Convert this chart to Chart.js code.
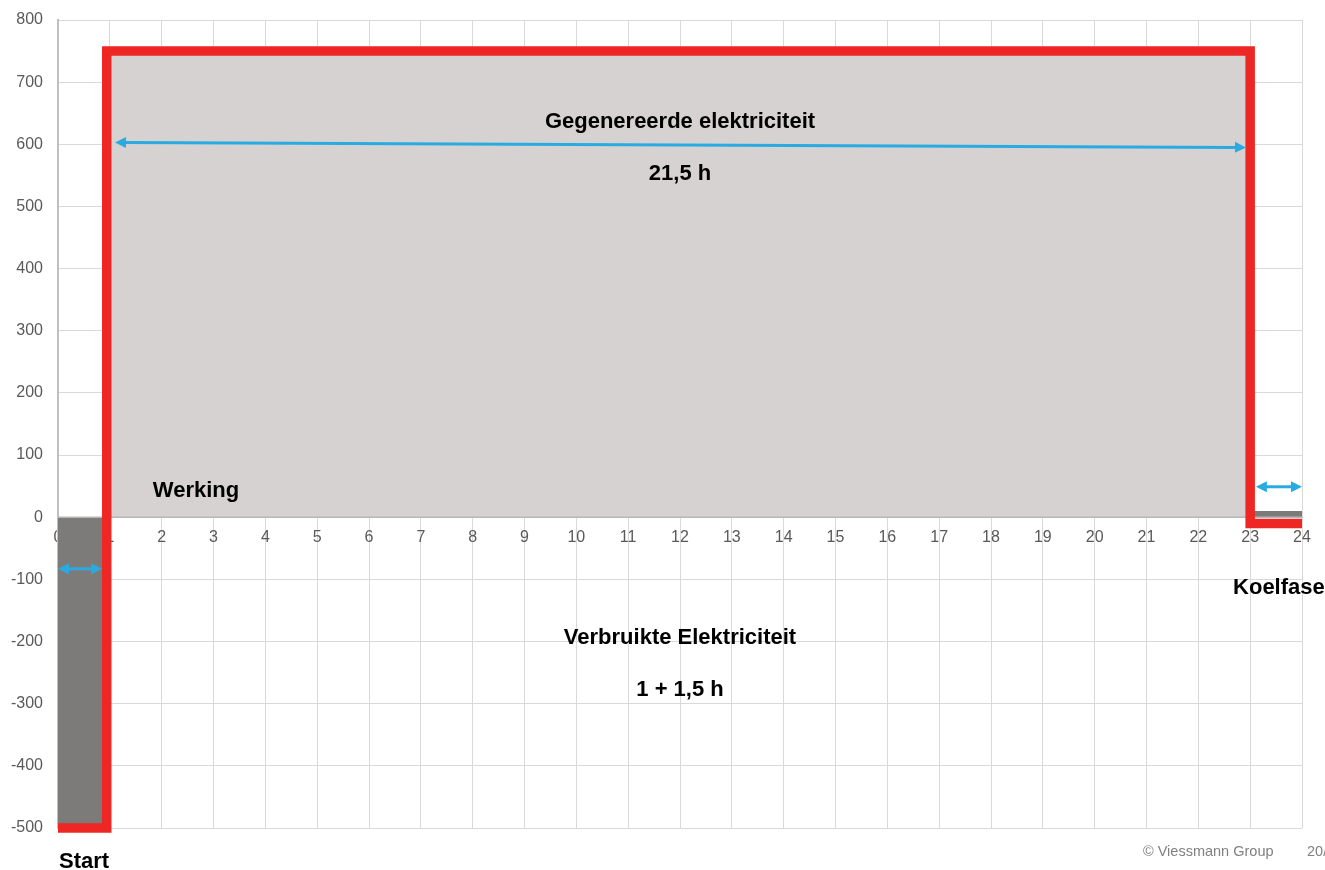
<!DOCTYPE html>
<html>
<head>
<meta charset="utf-8">
<script src="https://cdn.jsdelivr.net/npm/chart.js@4.4.1/dist/chart.umd.min.js"></script>
<style>
  html, body { margin: 0; padding: 0; background: #ffffff; }
  #wrap { width: 1325px; height: 870px; }
</style>
</head>
<body>
<div id="wrap"><canvas id="c" width="1325" height="870"></canvas></div>
<script>
// Axis ticks
const hourTicks = [0, 1, 2, 3, 4, 5, 6, 7, 8, 9, 10, 11, 12, 13, 14, 15, 16, 17, 18, 19, 20, 21, 22, 23, 24];
const powerTicks = [-500, -400, -300, -200, -100, 0, 100, 200, 300, 400, 500, 600, 700, 800];

// Net electrical power over one day (red profile)
const profileHours = [0, 0.94, 0.94, 23, 23, 24];
const profilePower = [-500, -500, 750, 750, -10, -10];

// Generated electricity block
const generatedHours = [0.94, 0.94, 23, 23];
const generatedPower = [0, 750, 750, 0];

// Consumed electricity during start
const startHours = [0, 0, 0.94, 0.94];
const startPower = [0, -500, -500, 0];

// Consumed electricity during cooling phase
const coolHours = [23, 23, 24, 24];
const coolPower = [0, 10, 10, 0];

// Zero line across the day
const zeroHours = [0, 24];
const zeroPower = [0, 0];

// Duration arrows (hour, power) pairs
const arrowStartHours = [1.1, 0, 23.11];
const arrowStartPower = [603, -83, 49];
const arrowEndHours = [22.92, 0.85, 24];
const arrowEndPower = [595, -83, 49];

// Annotation texts
const labelGenerated = 'Gegenereerde elektriciteit';
const labelGeneratedTime = '21,5 h';
const labelOperation = 'Werking';
const labelConsumed = 'Verbruikte Elektriciteit';
const labelConsumedTime = '1 + 1,5 h';
const labelStart = 'Start';
const labelCooling = 'Koelfase';
const footerText = '© Viessmann Group';
const footerDate = '20/0';

const toPoints = (xs, ys) => xs.map((x, i) => ({ x: x, y: ys[i] }));

const FONT = "'Liberation Sans', Arial, sans-serif";

const annotationPlugin = {
  id: 'annotations',
  afterDatasetsDraw(chart) {
    const ctx = chart.ctx;
    const xs = chart.scales.x;
    const ys = chart.scales.y;
    const area = chart.chartArea;

    // double-headed duration arrows
    ctx.save();
    ctx.strokeStyle = '#29abe2';
    ctx.fillStyle = '#29abe2';
    ctx.lineWidth = 3;
    for (let i = 0; i < arrowStartHours.length; i++) {
      const x1 = xs.getPixelForValue(arrowStartHours[i]);
      const y1 = ys.getPixelForValue(arrowStartPower[i]);
      const x2 = xs.getPixelForValue(arrowEndHours[i]);
      const y2 = ys.getPixelForValue(arrowEndPower[i]);
      const ang = Math.atan2(y2 - y1, x2 - x1);
      const head = 11, half = 5.5;
      const ux = Math.cos(ang), uy = Math.sin(ang);
      ctx.beginPath();
      ctx.moveTo(x1 + ux * head * 0.8, y1 + uy * head * 0.8);
      ctx.lineTo(x2 - ux * head * 0.8, y2 - uy * head * 0.8);
      ctx.stroke();
      const drawHead = (tx, ty, dx, dy) => {
        ctx.beginPath();
        ctx.moveTo(tx, ty);
        ctx.lineTo(tx - dx * head - dy * half, ty - dy * head + dx * half);
        ctx.lineTo(tx - dx * head + dy * half, ty - dy * head - dx * half);
        ctx.closePath();
        ctx.fill();
      };
      drawHead(x2, y2, ux, uy);
      drawHead(x1, y1, -ux, -uy);
    }
    ctx.restore();

    // annotation texts
    ctx.save();
    ctx.fillStyle = '#000000';
    ctx.font = 'bold 22px ' + FONT;
    ctx.textBaseline = 'alphabetic';
    ctx.textAlign = 'center';
    const cx = xs.getPixelForValue(12);
    ctx.fillText(labelGenerated, cx, ys.getPixelForValue(627));
    ctx.fillText(labelGeneratedTime, cx, ys.getPixelForValue(542));
    ctx.fillText(labelConsumed, cx, ys.getPixelForValue(-204));
    ctx.fillText(labelConsumedTime, cx, ys.getPixelForValue(-287));
    ctx.textAlign = 'left';
    ctx.fillText(labelOperation, xs.getPixelForValue(1.83), ys.getPixelForValue(33));
    ctx.fillText(labelStart, area.left + 1, area.bottom + 40);
    ctx.fillText(labelCooling, xs.getPixelForValue(22.67), ys.getPixelForValue(-123));

    ctx.fillStyle = '#808080';
    ctx.font = '14.5px ' + FONT;
    ctx.fillText(footerText, 1143, 856);
    ctx.fillText(footerDate, 1307, 856);
    ctx.restore();
  }
};

new Chart(document.getElementById('c'), {
  type: 'line',
  data: {
    datasets: [
      {
        data: toPoints(profileHours, profilePower),
        borderColor: '#ee2624',
        borderWidth: 9.5,
        borderJoinStyle: 'miter',
        borderCapStyle: 'butt',
        pointRadius: 0,
        fill: false,
        tension: 0,
        clip: 10,
        order: 0
      },
      {
        data: toPoints(zeroHours, zeroPower),
        borderColor: '#b8b5b4',
        borderWidth: 1.5,
        pointRadius: 0,
        fill: false,
        order: 1
      },
      {
        data: toPoints(generatedHours, generatedPower),
        borderWidth: 0,
        borderColor: 'rgba(0,0,0,0)',
        backgroundColor: '#d6d2d1',
        pointRadius: 0,
        fill: 'origin',
        order: 2
      },
      {
        data: toPoints(startHours, startPower),
        borderWidth: 0,
        borderColor: 'rgba(0,0,0,0)',
        backgroundColor: '#7d7b7a',
        pointRadius: 0,
        fill: 'origin',
        order: 3
      },
      {
        data: toPoints(coolHours, coolPower),
        borderWidth: 0,
        borderColor: 'rgba(0,0,0,0)',
        backgroundColor: '#7d7b7a',
        pointRadius: 0,
        fill: 'origin',
        order: 4
      }
    ]
  },
  options: {
    responsive: false,
    animation: false,
    devicePixelRatio: 1,
    layout: { padding: { left: 0, top: 20, right: 23, bottom: 42 } },
    plugins: {
      legend: { display: false },
      tooltip: { enabled: false },
      title: { display: false }
    },
    scales: {
      x: {
        type: 'linear',
        position: { y: 0 },
        min: 0,
        max: 24,
        afterBuildTicks: s => { s.ticks = hourTicks.map(v => ({ value: v })); },
        afterFit: s => { s.paddingLeft = 0; s.paddingRight = 0; },
        ticks: {
          autoSkip: false,
          maxRotation: 0,
          padding: 11,
          color: '#595959',
          font: { family: FONT, size: 16 }
        },
        grid: { color: '#d9d9d9', lineWidth: 1, drawTicks: false },
        border: { color: '#bfbfbf', width: 1 }
      },
      y: {
        type: 'linear',
        position: 'left',
        min: -500,
        max: 800,
        afterBuildTicks: s => { s.ticks = powerTicks.map(v => ({ value: v })); },
        afterFit: s => { s.width = 58; s.paddingTop = 0; s.paddingBottom = 0; },
        ticks: {
          padding: 15,
          color: '#595959',
          font: { family: FONT, size: 16 }
        },
        grid: { color: '#d9d9d9', lineWidth: 1, drawTicks: false },
        border: { color: '#bfbfbf', width: 2 }
      }
    }
  },
  plugins: [annotationPlugin]
});
</script>
</body>
</html>
